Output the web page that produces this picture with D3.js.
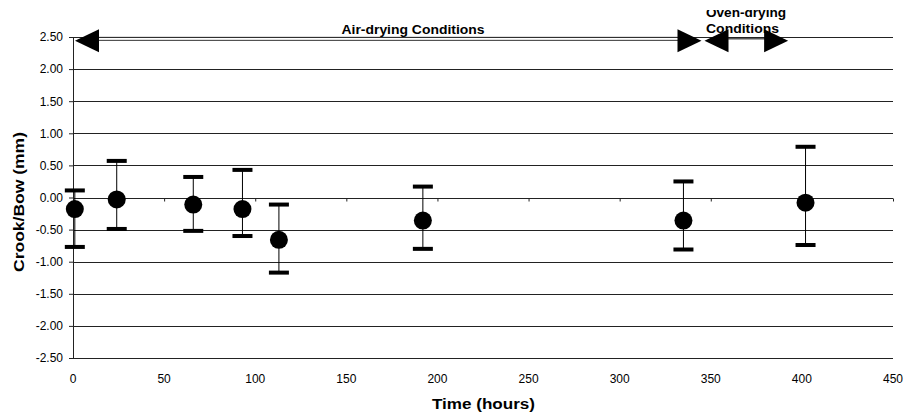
<!DOCTYPE html>
<html>
<head>
<meta charset="utf-8">
<script src="https://cdn.jsdelivr.net/npm/d3@7"></script>
<style>
  body { margin: 0; background: #fff; }
  text { font-family: Arial, "Liberation Sans", sans-serif; }
</style>
</head>
<body>
<div id="chart"></div>
<script>
// time (hours), mean crook/bow, error bar upper and lower ends
var times = [1, 24, 66, 93, 113, 192, 335, 402];
var means = [-0.18, -0.03, -0.11, -0.18, -0.66, -0.36, -0.36, -0.08];
var uppers = [0.11, 0.57, 0.32, 0.43, -0.11, 0.17, 0.25, 0.79];
var lowers = [-0.77, -0.49, -0.52, -0.60, -1.17, -0.80, -0.81, -0.74];

var xTicks = [0, 50, 100, 150, 200, 250, 300, 350, 400, 450];
var yTicks = [2.5, 2, 1.5, 1, 0.5, 0, -0.5, -1, -1.5, -2, -2.5];

// drying phase annotations: start, end, level
var phaseNames = ['Air-drying Conditions', 'Oven-drying Conditions'];
var phaseStart = [0, 346];
var phaseEnd = [346, 393];
var phaseLevel = 2.44;

var margin = { top: 37, right: 14, bottom: 61, left: 73 };
var width = 907 - margin.left - margin.right;
var height = 419 - margin.top - margin.bottom;

var root = d3.select('#chart')
  .append('svg')
  .attr('width', 907)
  .attr('height', 419);

root.append('defs').append('clipPath')
  .attr('id', 'clip')
  .append('rect')
  .attr('x', 0).attr('y', 10).attr('width', 907).attr('height', 409);

var svg = root.append('g')
  .attr('clip-path', 'url(#clip)')
  .append('g')
  .attr('transform', 'translate(' + margin.left + ',' + margin.top + ')');

var x = d3.scaleLinear().domain([0, 450]).range([0, width]);
var y = d3.scaleLinear().domain([-2.5, 2.5]).range([height, 0]);

// horizontal gridlines
svg.selectAll('.grid')
  .data(yTicks)
  .enter().append('line')
  .attr('class', 'grid')
  .attr('x1', 0).attr('x2', width)
  .attr('y1', function(d) { return Math.round(y(d)) + 0.5; })
  .attr('y2', function(d) { return Math.round(y(d)) + 0.5; })
  .attr('stroke', '#222')
  .attr('stroke-width', 1);

// y axis
var yAxis = svg.append('g')
  .call(d3.axisLeft(y).tickValues(yTicks).tickSize(4).tickPadding(6)
    .tickFormat(d3.format('.2f')));
yAxis.select('.domain').attr('stroke', '#222');
yAxis.selectAll('line').attr('stroke', '#222');
yAxis.selectAll('text').attr('font-size', 12).attr('fill', '#000')
  .attr('font-family', 'Arial, "Liberation Sans", sans-serif')
  .text(function(d) { return d3.format('.2f')(d).replace('−', '-'); });

// x axis line at zero with small ticks
var xAxis = svg.append('g')
  .attr('transform', 'translate(0,' + (Math.round(y(0)) + 0.5) + ')')
  .call(d3.axisBottom(x).tickValues(xTicks).tickSize(3).tickFormat(''));
xAxis.select('.domain').remove();
xAxis.selectAll('line').attr('stroke', '#222');

// x tick labels at the bottom
svg.selectAll('.xlab')
  .data(xTicks)
  .enter().append('text')
  .attr('class', 'xlab')
  .attr('x', function(d) { return x(d); })
  .attr('y', height + 25)
  .attr('text-anchor', 'middle')
  .attr('font-size', 12)
  .text(function(d) { return d; });

// error bars
var idx = d3.range(times.length);
svg.selectAll('.err')
  .data(idx)
  .enter().append('line')
  .attr('class', 'err')
  .attr('x1', function(i) { return x(times[i]); })
  .attr('x2', function(i) { return x(times[i]); })
  .attr('y1', function(i) { return y(uppers[i]); })
  .attr('y2', function(i) { return y(lowers[i]); })
  .attr('stroke', '#000')
  .attr('stroke-width', 1);

[uppers, lowers].forEach(function(arr) {
  svg.selectAll(null)
    .data(idx)
    .enter().append('rect')
    .attr('x', function(i) { return x(times[i]) - 10; })
    .attr('y', function(i) { return y(arr[i]) - 2; })
    .attr('width', 20)
    .attr('height', 4)
    .attr('fill', '#000');
});

svg.selectAll('.dot')
  .data(idx)
  .enter().append('circle')
  .attr('class', 'dot')
  .attr('cx', function(i) { return x(times[i]); })
  .attr('cy', function(i) { return y(means[i]); })
  .attr('r', 9)
  .attr('fill', '#000');

// phase arrows
var ay = y(phaseLevel);
var tri = 24, half = 11.5;

function arrowHead(px, dir) {
  // dir -1 points left, 1 points right
  svg.append('path')
    .attr('d', 'M' + px + ',' + ay + 'L' + (px - dir * tri) + ',' + (ay - half) +
      'L' + (px - dir * tri) + ',' + (ay + half) + 'Z')
    .attr('fill', '#000');
}

// air drying: double line
[-1.5, 1.5].forEach(function(off) {
  svg.append('line')
    .attr('x1', x(phaseStart[0]) + tri).attr('x2', x(phaseEnd[0]) - tri)
    .attr('y1', ay - 2 + off).attr('y2', ay - 2 + off)
    .attr('stroke', '#333').attr('stroke-width', 1);
});
arrowHead(x(phaseStart[0]) + 2, -1);
arrowHead(x(phaseEnd[0]) - 2, 1);

// oven drying: single line
svg.append('line')
  .attr('x1', x(phaseStart[1]) + tri).attr('x2', x(phaseEnd[1]) - tri)
  .attr('y1', ay - 2).attr('y2', ay - 2)
  .attr('stroke', '#000').attr('stroke-width', 1);
arrowHead(x(phaseStart[1]) + 1, -1);
arrowHead(x(phaseEnd[1]) - 1, 1);

svg.append('text')
  .attr('x', 268.5)
  .attr('y', -3)
  .attr('font-size', 12.5)
  .attr('font-weight', 'bold')
  .attr('textLength', 143)
  .attr('lengthAdjust', 'spacingAndGlyphs')
  .text(phaseNames[0]);

var ov = svg.append('text')
  .attr('x', 633)
  .attr('y', -20)
  .attr('font-size', 12.5)
  .attr('font-weight', 'bold');
ov.append('tspan').attr('x', 633)
  .attr('textLength', 80).attr('lengthAdjust', 'spacingAndGlyphs')
  .text('Oven-drying');
ov.append('tspan').attr('x', 633).attr('dy', 16)
  .attr('textLength', 73).attr('lengthAdjust', 'spacingAndGlyphs')
  .text('Conditions');

// axis titles
root.append('text')
  .attr('x', 432)
  .attr('y', 409)
  .attr('font-size', 14)
  .attr('font-weight', 'bold')
  .attr('textLength', 103)
  .attr('lengthAdjust', 'spacingAndGlyphs')
  .text('Time (hours)');

root.append('text')
  .attr('transform', 'translate(24,272) rotate(-90)')
  .attr('font-size', 14)
  .attr('font-weight', 'bold')
  .attr('textLength', 140)
  .attr('lengthAdjust', 'spacingAndGlyphs')
  .text('Crook/Bow (mm)');
</script>
</body>
</html>
